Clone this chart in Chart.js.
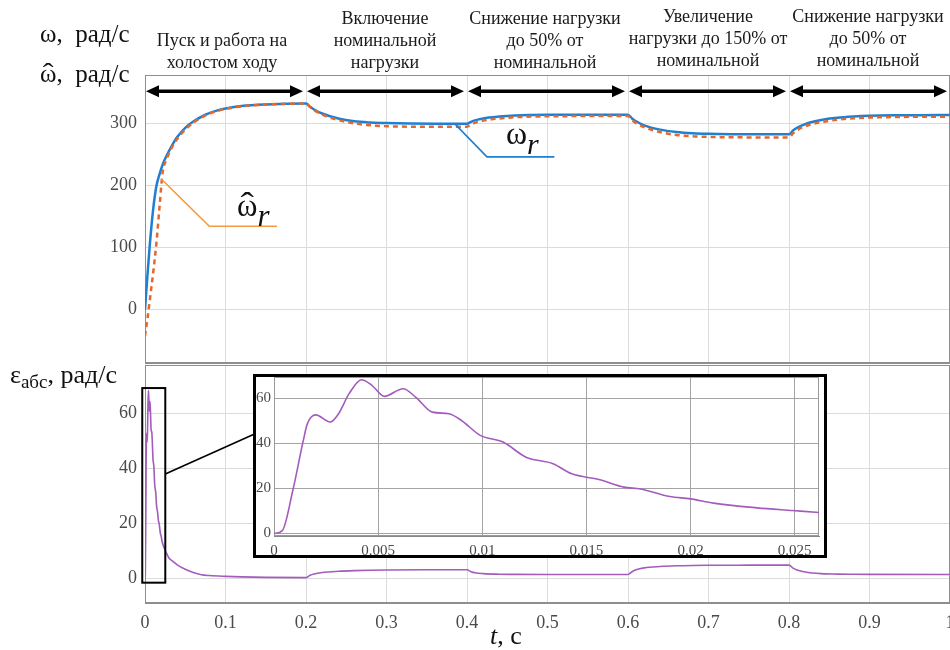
<!DOCTYPE html>
<html><head><meta charset="utf-8">
<script src="https://cdn.jsdelivr.net/npm/chart.js@4"></script>
<style>
html,body{margin:0;padding:0;width:950px;height:650px;overflow:hidden;background:#fff;font-family:"Liberation Serif","Times New Roman",serif;color:#111;}
.abs{position:absolute;white-space:nowrap;}
.hdr{position:absolute;width:190px;text-align:center;font-size:18px;line-height:22px;color:#1a1a1a;}
.hat{position:relative;display:inline-block;}
.hat b{position:absolute;left:0;right:0;text-align:center;font-weight:normal;transform:scaleX(1.3);}
</style></head><body>
<div style="position:absolute;left:0;top:0;width:990px;height:364px"><canvas id="cTop" width="990" height="364"></canvas></div>
<div style="position:absolute;left:0;top:363px;width:990px;height:287px"><canvas id="cBot" width="990" height="287"></canvas></div>
<div id="inset" style="position:absolute;left:253px;top:374px;width:568px;height:178px;border:3px solid #000;background:#fff"><canvas id="cIns" width="568" height="178"></canvas></div>

<div class="abs" style="left:40px;top:21px;font-size:25px;line-height:25px">ω,&nbsp; рад/с</div>
<div class="abs" style="left:40px;top:61px;font-size:25px;line-height:25px"><span class="hat">ω<b style="top:-1px">ˆ</b></span>,&nbsp; рад/с</div>
<div class="abs" style="left:10px;top:362px;font-size:26px;line-height:26px">ε<span style="font-size:19px;position:relative;top:5px">абс</span>, рад/с</div>
<div class="abs" style="left:490px;top:623px;font-size:26px;line-height:26px"><i>t</i>,&nbsp;с</div>

<div class="hdr" style="left:127px;top:29px">Пуск и работа на<br>холостом ходу</div>
<div class="hdr" style="left:290px;top:7px">Включение<br>номинальной<br>нагрузки</div>
<div class="hdr" style="left:450px;top:7px">Снижение нагрузки<br>до 50% от<br>номинальной</div>
<div class="hdr" style="left:613px;top:5px">Увеличение<br>нагрузки до 150% от<br>номинальной</div>
<div class="hdr" style="left:773px;top:5px">Снижение нагрузки<br>до 50% от<br>номинальной</div>

<div class="abs" style="left:237px;top:190px;font-size:31px;line-height:31px"><span class="hat">ω<b style="top:-2px">ˆ</b></span><span style="font-style:italic;position:relative;top:10px">r</span></div>
<div class="abs" style="left:506px;top:117px;font-size:32px;line-height:32px">ω<span style="font-style:italic;font-size:30px;position:relative;top:10px">r</span></div>

<script>
// ---------- data ----------
const tSpeed = [0, 0.003, 0.006, 0.01, 0.014, 0.018, 0.022, 0.026, 0.03, 0.035, 0.04, 0.05, 0.06, 0.075, 0.09, 0.1, 0.12, 0.15, 0.2,
  0.205, 0.21, 0.22, 0.24, 0.26, 0.28, 0.3, 0.33, 0.36, 0.4,
  0.405, 0.41, 0.42, 0.44, 0.46, 0.48, 0.5, 0.53, 0.56, 0.6,
  0.605, 0.61, 0.62, 0.64, 0.66, 0.68, 0.7, 0.73, 0.76, 0.8,
  0.805, 0.81, 0.82, 0.84, 0.86, 0.88, 0.9, 0.93, 0.96, 1.0];
const omegaTrue = [0, 55, 105, 160, 198, 218, 234, 246, 256, 268, 278, 293, 303, 314, 321, 324, 328, 330.5, 332,
  327, 322.5, 316, 308, 303.5, 301.5, 300.5, 299.8, 299.5, 299.5,
  302.5, 305, 308, 311, 312.8, 313.5, 313.8, 314, 314, 314,
  308, 303.5, 297, 290, 286.3, 284.3, 283.3, 282.7, 282.5, 282.5,
  288.5, 293, 299, 305.5, 309, 311, 312.2, 313, 313.3, 313.5];
const omegaEst = [-42, -15, 16, 58, 105, 165, 222, 240, 252, 265, 275, 290, 301, 313, 320, 323.5, 327.5, 330.5, 332,
  326.5, 321.5, 314.5, 305.5, 300, 297, 295.5, 294.7, 294.5, 294.5,
  298, 301, 304.5, 308, 310, 311, 311.5, 311.8, 312, 312,
  305.5, 300.5, 294, 286, 281.5, 279.3, 278.3, 277.7, 277.5, 277.5,
  284, 289, 295.5, 302, 306, 308.3, 309.5, 310.3, 310.7, 311];

const tErr = [0, 0.0004, 0.0009, 0.0014, 0.0016, 0.002, 0.0027, 0.0031, 0.0036, 0.0042, 0.0047, 0.0053, 0.0062, 0.0068, 0.0076,
  0.0084, 0.009, 0.0099, 0.011, 0.0121, 0.0134, 0.0143, 0.0156, 0.0168, 0.0176, 0.019, 0.02, 0.0211, 0.0232, 0.0249, 0.0262,
  0.03, 0.035, 0.04, 0.05, 0.06, 0.07, 0.08, 0.1, 0.12, 0.15, 0.2,
  0.205, 0.21, 0.22, 0.24, 0.26, 0.28, 0.3, 0.35, 0.4,
  0.405, 0.41, 0.42, 0.44, 0.46, 0.5, 0.6,
  0.605, 0.61, 0.62, 0.64, 0.66, 0.68, 0.7, 0.75, 0.8,
  0.805, 0.81, 0.82, 0.84, 0.86, 0.88, 0.9, 1.0];
const errAbs = [0, 1.3, 19, 41, 48.7, 52.7, 49.5, 53.2, 62, 68.3, 65.8, 60.9, 64.3, 60.6, 53.9,
  53.2, 50.2, 43.6, 40.6, 33.9, 31, 26.5, 24, 20.6, 19.8, 16.4, 15.4, 13.5, 11.4, 10.2, 9.3,
  7.2, 6.0, 4.8, 3.2, 2.0, 1.2, 0.9, 0.6, 0.4, 0.25, 0.15,
  1.0, 1.5, 2.0, 2.45, 2.7, 2.85, 2.92, 3.0, 3.0,
  2.3, 1.9, 1.6, 1.4, 1.33, 1.3, 1.3,
  2.3, 3.0, 3.7, 4.2, 4.45, 4.58, 4.63, 4.68, 4.7,
  3.6, 2.9, 2.2, 1.6, 1.42, 1.35, 1.32, 1.3];

const xTicks = [0, 0.1, 0.2, 0.3, 0.4, 0.5, 0.6, 0.7, 0.8, 0.9, 1.0];
const xTickLabels = ['0', '0.1', '0.2', '0.3', '0.4', '0.5', '0.6', '0.7', '0.8', '0.9', '1'];
const yTopTicks = [0, 100, 200, 300];
const yBotTicks = [0, 20, 40, 60];
const insetXTicks = [0, 0.005, 0.01, 0.015, 0.02, 0.025];
const insetXLabels = ['0', '0.005', '0.01', '0.015', '0.02', '0.025'];
const insetYTicks = [0, 20, 40, 60];
const phaseEdges = [0, 0.2, 0.4, 0.6, 0.8, 1.0];

// annotation anchors (data units)
const ARROW_Y = 352;
const estLeader = [[0.0199, 211], [0.0799, 134.4], [0.164, 134.4]];
const trueLeader = [[0.3855, 298.4], [0.4248, 246.1], [0.5085, 246.1]];
const zoomRect = [[-0.0034, 69.2], [0.0252, -1.7]];
const zoomLinkY = 37.9;

// ---------- styles ----------
const SERIF = 'Liberation Serif';
const BLUE = '#1f7fd0';
const ORANGE = '#e4682c';
const ORANGE_LEADER = '#f39a45';
const PURPLE = '#a35cbc';
const GRID = '#dcdcdc';
const FRAME = '#8e8e8e';
const TICKC = '#4a4a4a';
const BOT_TOP = 363, INSET_LEFT = 253, INSET_TOP = 374;

const setTicks = arr => s => { s.ticks = arr.map(v => ({ value: v })); };
const pts = (xs, ys) => xs.map((t, i) => ({ x: t, y: ys[i] }));
const fitY = w => s => { s.width = w; s.paddingTop = 0; s.paddingBottom = 0; s.paddingLeft = 0; s.paddingRight = 0; };
const fitX = h => s => { s.height = h; s.paddingTop = 0; s.paddingBottom = 0; s.paddingLeft = 0; s.paddingRight = 0; };

const framePlugin = color => ({
  id: 'frame',
  beforeDatasetsDraw(chart) {
    const a = chart.chartArea, c = chart.ctx;
    c.save(); c.strokeStyle = color; c.lineWidth = 1;
    c.strokeRect(Math.round(a.left) + 0.5, Math.round(a.top) + 0.5, Math.round(a.right - a.left) - 1, Math.round(a.bottom - a.top) - 1);
    c.restore();
  }
});

function doubleArrow(c, x1, x2, y) {
  const hl = 13, hh = 6;
  c.beginPath(); c.moveTo(x1 + hl - 2, y); c.lineTo(x2 - hl + 2, y);
  c.lineWidth = 3.5; c.strokeStyle = '#000'; c.stroke();
  c.fillStyle = '#000';
  c.beginPath(); c.moveTo(x1, y); c.lineTo(x1 + hl, y - hh); c.lineTo(x1 + hl, y + hh); c.closePath(); c.fill();
  c.beginPath(); c.moveTo(x2, y); c.lineTo(x2 - hl, y - hh); c.lineTo(x2 - hl, y + hh); c.closePath(); c.fill();
}
function leader(c, x, y, list, color) {
  c.beginPath();
  list.forEach((p, i) => { const px = x.getPixelForValue(p[0]), py = y.getPixelForValue(p[1]); i ? c.lineTo(px, py) : c.moveTo(px, py); });
  c.lineWidth = 1.6; c.strokeStyle = color; c.stroke();
}

const topAnno = {
  id: 'topAnno',
  afterDraw(chart) {
    const { ctx: c, scales: { x, y } } = chart;
    c.save();
    const yA = y.getPixelForValue(ARROW_Y);
    for (let i = 0; i < phaseEdges.length - 1; i++) {
      doubleArrow(c, x.getPixelForValue(phaseEdges[i]) + 1, x.getPixelForValue(phaseEdges[i + 1]) - 3, yA);
    }
    leader(c, x, y, estLeader, ORANGE_LEADER);
    leader(c, x, y, trueLeader, BLUE);
    c.restore();
  }
};
const botAnno = {
  id: 'botAnno',
  afterDraw(chart) {
    const { ctx: c, scales: { x, y } } = chart;
    c.save();
    const x1 = x.getPixelForValue(zoomRect[0][0]), y1 = y.getPixelForValue(zoomRect[0][1]);
    const x2 = x.getPixelForValue(zoomRect[1][0]), y2 = y.getPixelForValue(zoomRect[1][1]);
    c.lineWidth = 2; c.strokeStyle = '#000';
    c.strokeRect(x1, y1, x2 - x1, y2 - y1);
    c.beginPath();
    c.moveTo(x2, y.getPixelForValue(zoomLinkY));
    c.lineTo(INSET_LEFT + 1.5, INSET_TOP + 60 - BOT_TOP);
    c.lineWidth = 1.6; c.stroke();
    c.restore();
  }
};

const common = { responsive: false, animation: false, devicePixelRatio: 1, plugins: { legend: { display: false }, tooltip: { enabled: false } } };
const tickFont = { family: SERIF, size: 18 };

new Chart(document.getElementById('cTop'), {
  type: 'line',
  data: { datasets: [
    { label: 'ω', data: pts(tSpeed, omegaTrue), borderColor: BLUE, borderWidth: 2.5, pointRadius: 0, cubicInterpolationMode: 'monotone', order: 2 },
    { label: 'ω̂', data: pts(tSpeed, omegaEst), borderColor: ORANGE, borderWidth: 2.5, borderDash: [5, 4], pointRadius: 0, cubicInterpolationMode: 'monotone', order: 1 }
  ] },
  options: Object.assign({}, common, {
    layout: { padding: { top: 75, right: 40, left: 0, bottom: 0 } },
    scales: {
      x: { type: 'linear', min: 0, max: 1, afterBuildTicks: setTicks(xTicks), ticks: { display: false },
           grid: { color: GRID, drawTicks: false }, border: { color: FRAME }, afterFit: fitX(1) },
      y: { min: -85.8, max: 378, afterBuildTicks: setTicks(yTopTicks), ticks: { padding: 8, color: TICKC, font: tickFont },
           grid: { color: GRID, drawTicks: false }, border: { color: FRAME }, afterFit: fitY(145) }
    }
  }),
  plugins: [framePlugin(FRAME), topAnno]
});

new Chart(document.getElementById('cBot'), {
  type: 'line',
  data: { datasets: [
    { label: 'ε', data: pts(tErr, errAbs), borderColor: PURPLE, borderWidth: 1.6, pointRadius: 0, cubicInterpolationMode: 'monotone' }
  ] },
  options: Object.assign({}, common, {
    layout: { padding: { top: 2, right: 40, left: 0, bottom: 0 } },
    scales: {
      x: { type: 'linear', min: 0, max: 1, afterBuildTicks: setTicks(xTicks),
           ticks: { padding: 9, color: TICKC, font: tickFont, autoSkip: false, maxRotation: 0,
                    callback: (v, i) => xTickLabels[i] },
           grid: { color: GRID, drawTicks: false }, border: { color: FRAME }, afterFit: fitX(47) },
      y: { min: -9.1, max: 77.6, afterBuildTicks: setTicks(yBotTicks), ticks: { padding: 8, color: TICKC, font: tickFont },
           grid: { color: GRID, drawTicks: false }, border: { color: FRAME }, afterFit: fitY(145) }
    }
  }),
  plugins: [framePlugin(FRAME), botAnno]
});

new Chart(document.getElementById('cIns'), {
  type: 'line',
  data: { datasets: [
    { label: 'ε', data: pts(tErr, errAbs).filter(p => p.x <= 0.035), borderColor: PURPLE, borderWidth: 1.6, pointRadius: 0, cubicInterpolationMode: 'monotone' }
  ] },
  options: Object.assign({}, common, {
    layout: { padding: { top: 0, right: 5, left: 0, bottom: 0 } },
    scales: {
      x: { type: 'linear', min: 0, max: 0.02617, afterBuildTicks: setTicks(insetXTicks),
           ticks: { padding: 6, color: TICKC, font: { family: SERIF, size: 15 }, autoSkip: false, maxRotation: 0,
                    callback: (v, i) => insetXLabels[i] },
           grid: { color: '#a4a4a4', drawTicks: false }, border: { color: '#888' }, afterFit: fitX(19) },
      y: { min: -1.1, max: 69.5, afterBuildTicks: setTicks(insetYTicks),
           ticks: { padding: 3, color: TICKC, font: { family: SERIF, size: 15 } },
           grid: { color: '#a4a4a4', drawTicks: false }, border: { color: '#888' }, afterFit: fitY(18) }
    }
  }),
  plugins: [framePlugin('#999')]
});
</script>
</body></html>
